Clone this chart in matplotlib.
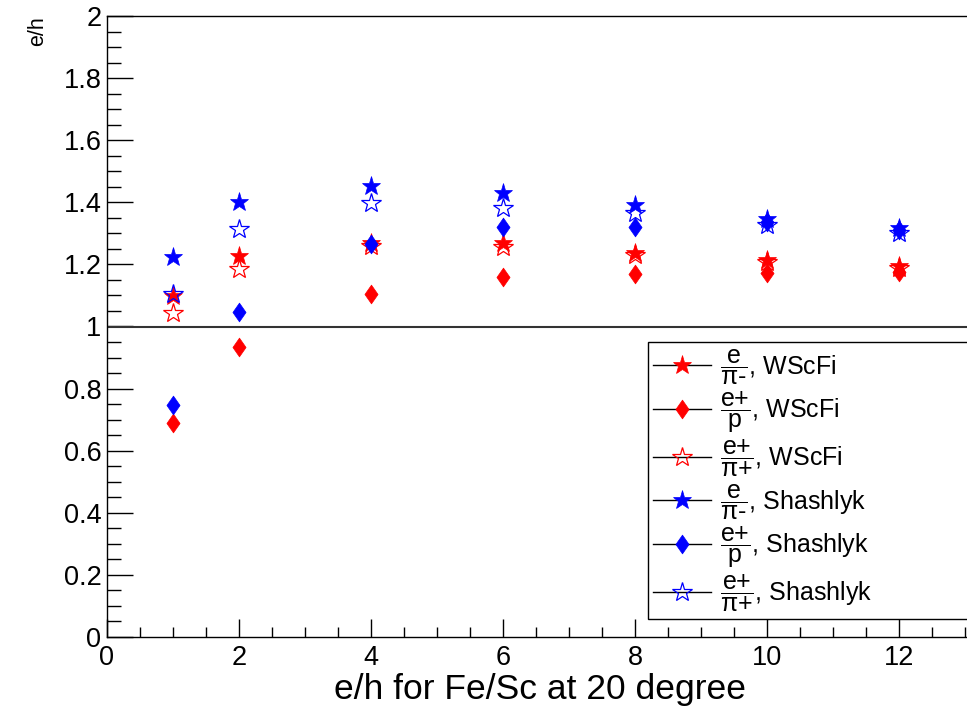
import matplotlib
matplotlib.use("Agg")
import matplotlib.pyplot as plt
from matplotlib.lines import Line2D
from matplotlib.path import Path
from matplotlib.ticker import MultipleLocator
import numpy as np

plt.rcParams['font.family'] = ['Liberation Sans', 'DejaVu Sans']
plt.rcParams['mathtext.fontset'] = 'custom'
plt.rcParams['mathtext.rm'] = 'Liberation Sans'
plt.rcParams['mathtext.it'] = 'Liberation Sans'

# e/h values vs energy point
x = [1, 2, 4, 6, 8, 10, 12]

wscfi_e_pim = [1.098, 1.228, 1.270, 1.268, 1.238, 1.214, 1.195]
wscfi_ep_p = [0.690, 0.933, 1.104, 1.158, 1.169, 1.172, 1.176]
wscfi_ep_pip = [1.045, 1.185, 1.260, 1.255, 1.230, 1.209, 1.188]

shash_e_pim = [1.225, 1.401, 1.452, 1.429, 1.391, 1.345, 1.316]
shash_ep_p = [0.747, 1.046, 1.265, 1.321, 1.321, 1.338, 1.310]
shash_ep_pip = [1.105, 1.315, 1.397, 1.381, 1.364, 1.327, 1.300]

labels = [
    r'$\dfrac{\text{e}}{\pi\text{-}}$, WScFi',
    r'$\dfrac{\text{e+}}{\text{p}}$, WScFi',
    r'$\dfrac{\text{e+}}{\pi\text{+}}$, WScFi',
    r'$\dfrac{\text{e}}{\pi\text{-}}$, Shashlyk',
    r'$\dfrac{\text{e+}}{\text{p}}$, Shashlyk',
    r'$\dfrac{\text{e+}}{\pi\text{+}}$, Shashlyk',
]

# ROOT-like narrow diamond
diamond = Path([(0, -1), (0.7, 0), (0, 1), (-0.7, 0), (0, -1)],
               [Path.MOVETO, Path.LINETO, Path.LINETO, Path.LINETO, Path.CLOSEPOLY])

fig = plt.figure(figsize=(9.67, 7.07), dpi=100)
ax = fig.add_axes([107 / 967, 70 / 707, 860 / 967, 621 / 707])

series = [
    (wscfi_e_pim, 'red', '*', True, 14),
    (wscfi_ep_p, 'red', diamond, True, 13.5),
    (wscfi_ep_pip, 'red', '*', False, 15),
    (shash_e_pim, 'blue', '*', True, 14),
    (shash_ep_p, 'blue', diamond, True, 13.5),
    (shash_ep_pip, 'blue', '*', False, 15),
]

handles = []
for vals, col, mk, filled, ms in series:
    fc = col if filled else 'none'
    mw = 0.5 if filled else 0.9
    ax.plot(x, vals, linestyle='none', marker=mk, ms=ms, mfc=fc, mec=col,
            mew=mw, zorder=3)
    handles.append(Line2D([], [], color='black', lw=1, marker=mk, ms=ms,
                          mfc=fc, mec=col, mew=mw))

ax.axhline(1.0, color='#333333', lw=1.5, zorder=2)

ax.set_xlim(0, 860 / 66)
ax.set_ylim(0, 2)
ax.xaxis.set_major_locator(MultipleLocator(2))
ax.xaxis.set_minor_locator(MultipleLocator(0.5))
ax.yaxis.set_major_locator(MultipleLocator(0.2))
ax.yaxis.set_minor_locator(MultipleLocator(0.05))
ax.yaxis.set_major_formatter(plt.FuncFormatter(lambda v, p: f"{v:g}"))

ax.tick_params(axis='both', which='both', direction='in', top=False,
               right=False, labelsize=19.5, width=1)
ax.tick_params(axis='y', which='major', length=19, pad=4)
ax.tick_params(axis='y', which='minor', length=10)
ax.tick_params(axis='x', which='major', length=13, pad=6)
ax.tick_params(axis='x', which='minor', length=7)
ax.spines['right'].set_visible(False)
for s in ('left', 'bottom', 'top'):
    ax.spines[s].set_linewidth(1)

# axis titles, ROOT style
fig.text(540 / 967, 1 - 699 / 707, 'e/h for Fe/Sc at 20 degree', fontsize=25.5,
         ha='center', va='baseline')
fig.text(38 / 967, 1 - 16 / 707, 'e/h', rotation=90, fontsize=15.5,
         ha='center', va='top')

leg = ax.legend(handles, labels, loc='upper left',
                bbox_to_anchor=(541 / 860, 0.035, 0.45, 0.44), mode='expand',
                fontsize=18, frameon=True, fancybox=False, edgecolor='black',
                framealpha=1, handlelength=2.3, handletextpad=0.4,
                labelspacing=0.1, borderpad=0.2, borderaxespad=0)
leg.get_frame().set_linewidth(1)

fig.savefig('out.png', dpi=100)
